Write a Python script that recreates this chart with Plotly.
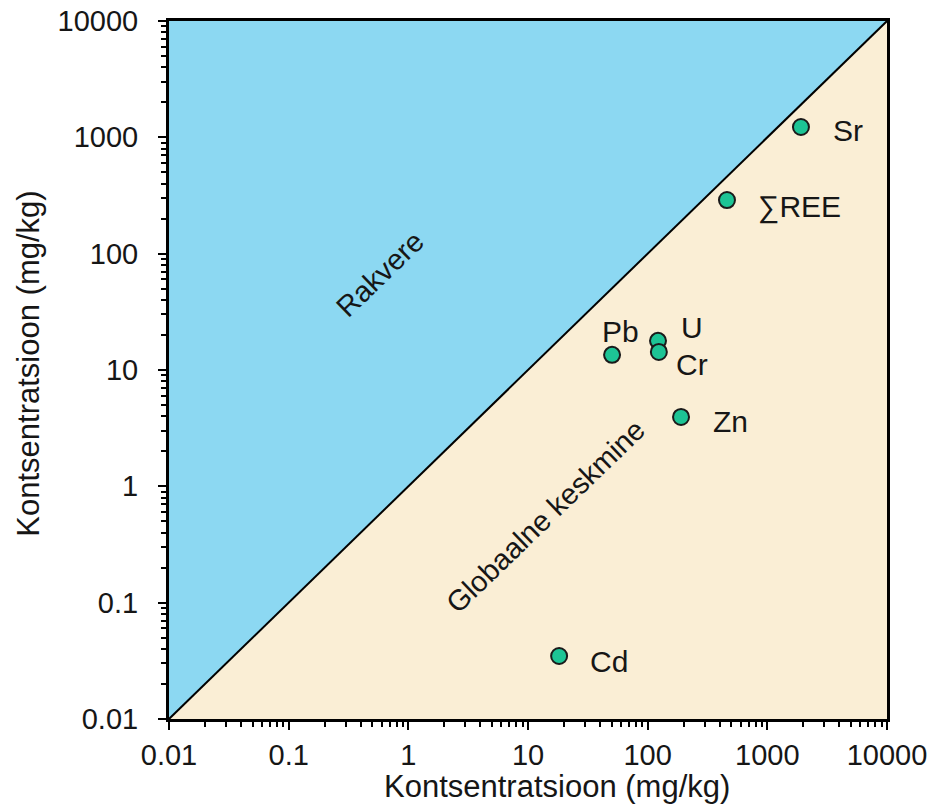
import math
import plotly.graph_objects as go

elements = ["Sr", "∑REE", "Pb", "U", "Cr", "Zn", "Cd"]
global_avg = [1910, 460, 50.4, 122, 124, 190, 18.2]      # x
rakvere = [1227, 289, 13.5, 17.8, 14.3, 3.95, 0.0348]      # y
label_dx = [47, 73, 8, 34, 33, 49, 50]
label_dy = [-3, -7, 23, 13, -13, -5, -5]

tick_vals = [0.01, 0.1, 1, 10, 100, 1000, 10000]
tick_text = ["0.01", "0.1", "1", "10", "100", "1000", "10000"]
minor_vals = [m * d for d in tick_vals[:-1] for m in range(2, 10)]

lo, hi = 0.01, 10000
FONT = "Liberation Sans, Arial, sans-serif"
INK = "#161616"

fig = go.Figure()
fig.add_trace(go.Scatter(x=[lo, lo, hi, lo], y=[lo, hi, hi, lo], fill="toself",
                         fillcolor="#8CD8F2", line=dict(width=0), mode="lines",
                         hoverinfo="skip", showlegend=False))
fig.add_trace(go.Scatter(x=[lo, hi, hi, lo], y=[lo, lo, hi, lo], fill="toself",
                         fillcolor="#FAEED5", line=dict(width=0), mode="lines",
                         hoverinfo="skip", showlegend=False))
fig.add_trace(go.Scatter(x=[lo, hi], y=[lo, hi], mode="lines",
                         line=dict(color="black", width=2), showlegend=False))
fig.add_trace(go.Scatter(x=global_avg, y=rakvere, mode="markers",
                         marker=dict(size=16, color="#1DC495",
                                     line=dict(color="#1a1a1a", width=2)),
                         showlegend=False))

for name, xv, yv, dx, dy in zip(elements, global_avg, rakvere, label_dx, label_dy):
    fig.add_annotation(x=math.log10(xv), y=math.log10(yv), text=name, showarrow=False,
                       xshift=dx, yshift=dy, font=dict(size=30, color=INK, family=FONT))

fig.add_annotation(x=math.log10(0.58), y=math.log10(66.9), text="Rakvere", showarrow=False,
                   textangle=-44, font=dict(size=29, color=INK, family=FONT))
fig.add_annotation(x=math.log10(14.1), y=math.log10(0.556), text="Globaalne keskmine",
                   showarrow=False, textangle=-44,
                   font=dict(size=29, color=INK, family=FONT))

# axis titles
fig.add_annotation(xref="paper", yref="paper", x=0.540, y=-0.097, text="Kontsentratsioon (mg/kg)",
                   showarrow=False, xanchor="center", yanchor="middle",
                   font=dict(size=31, color=INK, family=FONT))
fig.add_annotation(xref="paper", yref="paper", x=-0.195, y=0.509, text="Kontsentratsioon (mg/kg)",
                   showarrow=False, xanchor="center", yanchor="middle", textangle=-90,
                   font=dict(size=31, color=INK, family=FONT))

axis_common = dict(type="log", range=[-2, 4], tickvals=tick_vals, ticktext=tick_text,
                   ticks="outside", ticklen=8, tickwidth=2, tickcolor="black",
                   showline=True, linewidth=3, linecolor="black", mirror=True,
                   showgrid=False, zeroline=False, ticklabeloverflow="allow",
                   automargin=False,
                   tickfont=dict(size=29, color=INK, family=FONT),
                   minor=dict(tickvals=minor_vals, ticks="outside", ticklen=5,
                              tickwidth=1.5, tickcolor="black", showgrid=False))

fig.update_xaxes(**axis_common)
fig.update_yaxes(**axis_common, ticklabelstandoff=14)

fig.update_layout(width=938, height=806, margin=dict(l=169, r=51, t=21, b=87),
                  paper_bgcolor="white", plot_bgcolor="white")

fig.write_html("out.html", config={"displayModeBar": False},
               post_script="document.body.style.margin='0';")
